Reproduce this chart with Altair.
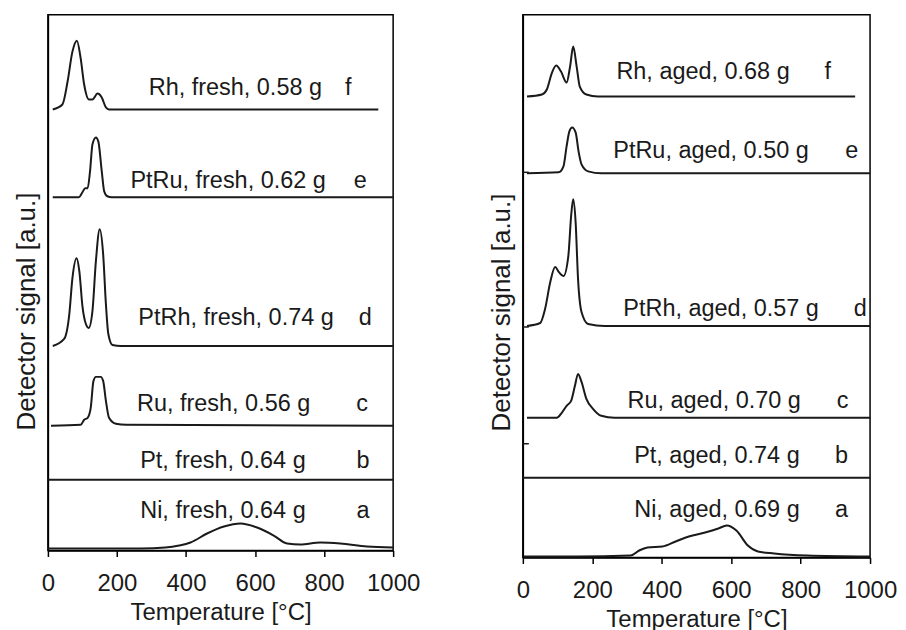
import altair as alt
import pandas as pd

FONT = "Liberation Sans"
INK = "#1a1a1a"

# ---------------- data (temperature in °C, signal above baseline in a.u.) ----------------
fresh_names = ["Ni", "Pt", "Ru", "PtRh", "PtRu", "Rh"]
fresh_base = [0, 71, 125, 205, 354, 442]
fresh_T = [
    [0, 270, 340, 380, 413, 461, 510, 558, 606, 654, 693, 731, 789, 847, 924, 1000],
    [0, 1000],
    [9, 95, 105, 115, 124, 132, 139, 153, 160, 168, 177, 197, 227, 1000],
    [14, 47, 62, 71, 83, 91, 100, 110, 118, 129, 139, 150, 160, 168, 175, 187, 212, 1000],
    [14, 90, 100, 108, 115, 122, 129, 139, 146, 156, 163, 172, 185, 1000],
    [14, 42, 57, 71, 84, 95, 105, 119, 129, 144, 156, 168, 177, 957],
]
fresh_S = [
    [2, 2, 3, 5, 8, 17, 24, 27, 23, 15, 7, 6, 8, 7, 4, 3],
    [0, 0],
    [0, 1, 6, 8, 18, 45, 49, 49, 45, 25, 8, 2, 1, 0],
    [0, 7, 32, 68, 88, 75, 40, 22, 18, 35, 85, 117, 92, 42, 12, 1, 0, 0],
    [0, 0, 5, 9, 9, 26, 53, 60, 56, 26, 6, 1, 0, 0],
    [0, 5, 28, 58, 69, 51, 25, 10, 10, 16, 12, 2, 0, 0],
]
fresh_labels = ["Ni, fresh, 0.64 g", "Pt, fresh, 0.64 g", "Ru, fresh, 0.56 g",
                "PtRh, fresh, 0.74 g", "PtRu, fresh, 0.62 g", "Rh, fresh, 0.58 g"]
fresh_label_T = [507, 507, 509, 545, 522, 543]
fresh_label_S = [40, 90, 147, 233, 370, 464]
fresh_letters = ["a", "b", "c", "d", "e", "f"]
fresh_letter_T = [913, 913, 910, 919, 905, 870]

aged_names = ["Ni", "Pt", "Ru", "PtRh", "PtRu", "Rh"]
aged_base = [0, 80, 140, 232, 385, 462]
aged_T = [
    [3, 155, 311, 335, 359, 402, 440, 478, 525, 563, 587, 615, 648, 677, 724, 819, 1000],
    [0, 1000],
    [12, 98, 112, 126, 139, 150, 159, 169, 183, 202, 226, 264, 1000],
    [12, 50, 64, 79, 93, 104, 117, 131, 139, 145, 152, 159, 169, 188, 235, 1000],
    [12, 103, 117, 126, 134, 142, 152, 161, 169, 188, 226, 1000],
    [12, 55, 69, 84, 96, 110, 126, 136, 145, 155, 164, 183, 216, 957],
]
aged_S = [
    [1, 1, 2, 7, 10, 11, 16, 21, 25, 29, 32, 27, 12, 6, 4, 2, 1],
    [0, 0],
    [0, 0, 5, 12, 17, 32, 44, 36, 19, 9, 2, 0, 0],
    [0, 3, 17, 44, 59, 54, 50, 70, 110, 127, 104, 47, 14, 2, 0, 0],
    [0, 1, 7, 27, 42, 46, 41, 21, 9, 2, 0, 0],
    [0, 2, 7, 24, 31, 25, 14, 30, 50, 30, 10, 2, 0, 0],
]
aged_labels = ["Ni, aged, 0.69 g", "Pt, aged, 0.74 g", "Ru, aged, 0.70 g",
               "PtRh, aged, 0.57 g", "PtRu, aged, 0.50 g", "Rh, aged, 0.68 g"]
aged_label_T = [559, 559, 551, 571, 542, 519]
aged_label_S = [48, 102, 157, 249, 407, 487]
aged_letters = ["a", "b", "c", "d", "e", "f"]
aged_letter_T = [918, 918, 921, 972, 947, 878]
aged_ticks = [114, 231, 386]

x_ticks = [0, 200, 400, 600, 800, 1000]


def curves_frame(names, bases, Ts, Ss):
    rows = []
    for n, b, ts, ss in zip(names, bases, Ts, Ss):
        for t, s in zip(ts, ss):
            rows.append({"curve": n, "T": t, "S": b + s})
    return pd.DataFrame(rows)


def panel(names, bases, Ts, Ss, labels, lab_T, lab_S, letters, let_T,
          width, height, ymax, title_y, yticks=None):
    xs = alt.Scale(domain=[0, 1000], nice=False)
    ys = alt.Scale(domain=[0, ymax], nice=False)
    df = curves_frame(names, bases, Ts, Ss)
    lines = alt.Chart(df).mark_line(
        interpolate="monotone", color=INK, strokeWidth=2
    ).encode(
        x=alt.X("T:Q", scale=xs, axis=alt.Axis(
            values=x_ticks, format="d", title="Temperature [°C]", grid=False,
            labelOverlap=False, labelFlush=False,
            labelPadding=15, titlePadding=5, titleFontSize=24, labelFontSize=24,
            labelFont=FONT, titleFont=FONT, titleFontWeight="normal",
            labelColor=INK, titleColor=INK)),
        y=alt.Y("S:Q", scale=ys, axis=alt.Axis(
            labels=False, ticks=False, grid=False,
            title="Detector signal [a.u.]", titleFontSize=26,
            titleFont=FONT, titleFontWeight="normal", titleColor=INK,
            titlePadding=8, titleY=title_y)),
        detail="curve:N",
    )
    lab_df = pd.DataFrame({"T": lab_T, "S": lab_S, "text": labels})
    let_df = pd.DataFrame({"T": let_T, "S": lab_S, "text": letters})
    txt = alt.Chart(lab_df).mark_text(
        font=FONT, fontSize=23.5, color=INK, align="center", baseline="middle"
    ).encode(x=alt.X("T:Q", scale=xs), y=alt.Y("S:Q", scale=ys), text="text:N")
    let = alt.Chart(let_df).mark_text(
        font=FONT, fontSize=23.5, color=INK, align="center", baseline="middle"
    ).encode(x=alt.X("T:Q", scale=xs), y=alt.Y("S:Q", scale=ys), text="text:N")
    layers = [lines, txt, let]
    if yticks:
        tk = alt.Chart(pd.DataFrame({"S": yticks})).mark_rule(
            color=INK, strokeWidth=1.5
        ).encode(x=alt.value(0), x2=alt.value(6), y=alt.Y("S:Q", scale=ys))
        layers.append(tk)
    return alt.layer(*layers).properties(width=width, height=height)


left = panel(fresh_names, fresh_base, fresh_T, fresh_S, fresh_labels,
             fresh_label_T, fresh_label_S, fresh_letters, fresh_letter_T,
             346, 537, 537, 297)
right = panel(aged_names, aged_base, aged_T, aged_S, aged_labels,
              aged_label_T, aged_label_S, aged_letters, aged_letter_T,
              348, 544, 544, 298, aged_ticks)

chart = alt.hconcat(
    left, right, spacing=130, bounds="flush",
    padding={"left": 5, "top": 5, "right": 0, "bottom": 2},
).configure_view(
    stroke="black", strokeWidth=1.5
).configure_axis(
    domainColor="black", domainWidth=1.5, tickColor="black", tickWidth=1.5,
    tickSize=6, labelFont=FONT, labelFontSize=24, labelColor=INK,
    titleFont=FONT, titleFontWeight="normal", titleColor=INK
)

chart.save("out.html", embed_options={"renderer": "svg", "actions": False})
